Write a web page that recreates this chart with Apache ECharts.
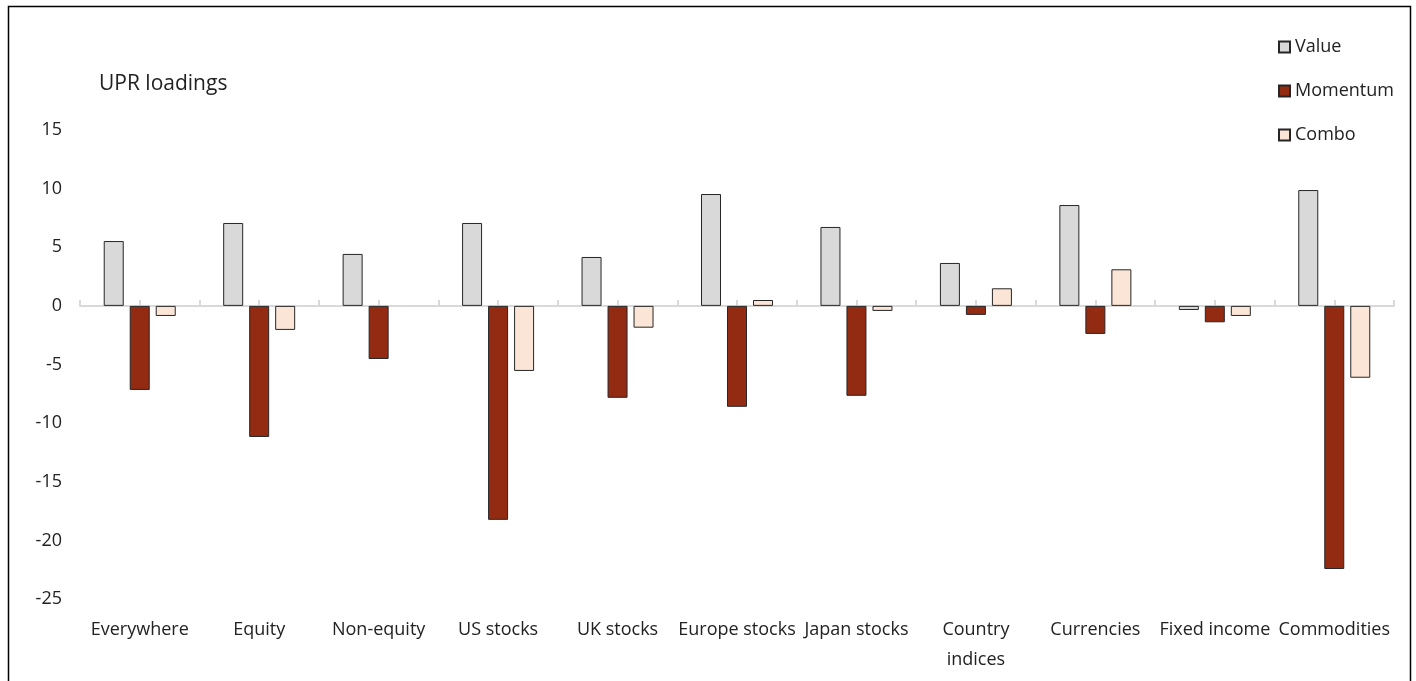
<!DOCTYPE html>
<html>
<head>
<meta charset="utf-8">
<script src="https://cdn.jsdelivr.net/npm/echarts@6/dist/echarts.min.js"></script>
<style>
html,body{margin:0;padding:0;background:#fff;}
#chart{width:1416px;height:681px;}
</style>
</head>
<body>
<div id="chart"></div>
<script>
const categories = ['Everywhere','Equity','Non-equity','US stocks','UK stocks','Europe stocks','Japan stocks','Country\nindices','Currencies','Fixed income','Commodities'];
const valueSeries    = [5.53, 7.07, 4.43, 7.07, 4.17, 9.54, 6.73, 3.66, 8.60, -0.35, 9.88];
const momentumSeries = [-7.17, -11.18, -4.53, -18.25, -7.84, -8.61, -7.67, -0.77, -2.39, -1.40, -22.44];
const comboSeries    = [-0.86, -2.05, null, -5.55, -1.86, 0.50, -0.43, 1.50, 3.12, -0.86, -6.13];
const yTicks = { min: -25, max: 15, interval: 5 };
const halfTicks = Array.from({length: categories.length * 2}, (_, i) => String(i));

const FONT = "'Liberation Sans Narrow', 'Open Sans', sans-serif";
const chart = echarts.init(document.getElementById('chart'));
const bar = (name, data, color) => ({
  name, type: 'bar', data, xAxisIndex: 0,
  barWidth: 20, barGap: '30%',
  itemStyle: { color, borderColor: '#262626', borderWidth: 1 }
});
chart.setOption({
  animation: false,
  backgroundColor: '#fff',
  textStyle: { fontFamily: FONT },
  title: {
    text: 'UPR loadings', left: 94, top: 69,
    textStyle: { fontFamily: FONT, fontSize: 21, fontWeight: 'normal', color: '#222' }
  },
  legend: {
    orient: 'vertical', left: 1273, top: 33,
    itemWidth: 11, itemHeight: 11, itemGap: 26,
    icon: 'rect',
    textStyle: { fontFamily: FONT, fontSize: 18, color: '#222' },
    data: ['Value', 'Momentum', 'Combo']
  },
  graphic: [{
    type: 'rect', silent: true,
    shape: { x: 8.5, y: 6.5, width: 1402, height: 700 },
    style: { fill: 'none', stroke: '#000', lineWidth: 1.5 }
  }],
  grid: { left: 80, right: 22, top: 130, bottom: 82 },
  xAxis: [{
    type: 'category', data: categories, position: 'bottom',
    axisLine: { show: false, onZero: false }, axisTick: { show: false },
    axisLabel: { margin: 16, fontSize: 18, lineHeight: 30, color: '#222', fontFamily: FONT, interval: 0 }
  }, {
    type: 'category', data: halfTicks, position: 'bottom',
    axisLine: { show: true, onZero: true, lineStyle: { color: '#d9d9d9', width: 2 } },
    axisTick: { show: true, inside: true, length: 6, lineStyle: { color: '#d9d9d9', width: 2 } },
    axisLabel: { show: false }
  }],
  yAxis: {
    type: 'value', min: yTicks.min, max: yTicks.max, interval: yTicks.interval,
    axisLine: { show: false }, axisTick: { show: false }, splitLine: { show: false },
    axisLabel: { margin: 18, fontSize: 18, color: '#222', fontFamily: FONT }
  },
  series: [
    bar('Value', valueSeries, '#d9d9d9'),
    bar('Momentum', momentumSeries, '#922b12'),
    bar('Combo', comboSeries, '#fbe5d6')
  ]
});
</script>
</body>
</html>
